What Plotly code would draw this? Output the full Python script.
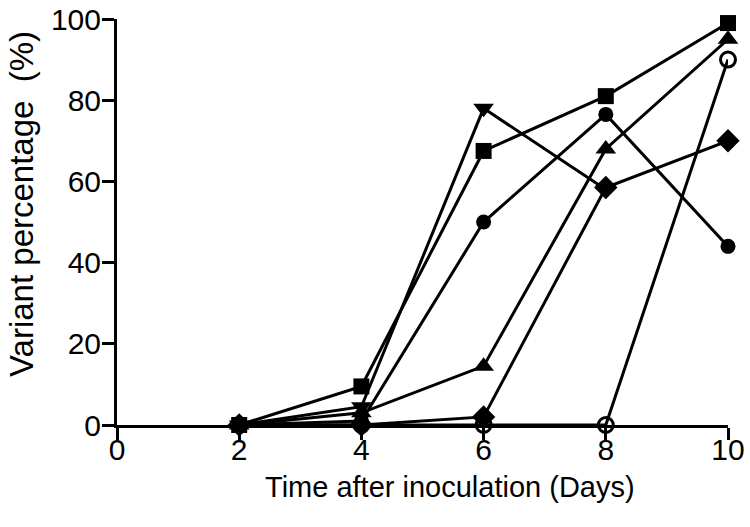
import plotly.graph_objects as go

days = [2, 4, 6, 8, 10]
series_open_circle = [0, 0, 0, 0, 90]
series_square = [0, 9.5, 67.5, 81, 99]
series_triangle_down = [0, 4.5, 78, 58, None]
series_circle = [0, 1, 50, 76.5, 44]
series_triangle_up = [0, 3, 14.5, 68, 95]
series_diamond = [0, 0, 2, 58.5, 70]

x_ticks = [0, 2, 4, 6, 8, 10]
y_ticks = [0, 20, 40, 60, 80, 100]
x_title = "Time after inoculation (Days)"
y_title = "Variant percentage&nbsp;&nbsp;(%)"

specs = [
    (series_open_circle, "circle-open", 15),
    (series_triangle_up, "triangle-up", 18),
    (series_circle, "circle", 15),
    (series_triangle_down, "triangle-down", 18),
    (series_diamond, "diamond", 18),
    (series_square, "square", 16),
]

fig = go.Figure()
for vals, sym, size in specs:
    fig.add_trace(go.Scatter(
        x=days, y=vals, mode="lines+markers",
        line=dict(color="black", width=3),
        marker=dict(symbol=sym, size=size, color="black",
                    line=dict(color="black", width=3 if sym == "circle-open" else 0)),
        cliponaxis=False, showlegend=False, connectgaps=False,
    ))

font = "Liberation Sans, Arial, sans-serif"
W, H = 750, 527
L, T, PW, PH = 117, 19, 611, 406
fig.update_layout(
    width=W, height=H,
    margin=dict(l=L, r=W - L - PW, t=T, b=H - T - PH),
    paper_bgcolor="white", plot_bgcolor="white",
    font=dict(family=font, color="black"),
)
fig.update_xaxes(
    range=[0, 10], tickvals=x_ticks, ticktext=[str(v) for v in x_ticks],
    showgrid=False, zeroline=False, showline=True, linecolor="black", linewidth=3,
    ticks="outside", ticklen=12, tickwidth=3, tickcolor="black",
    tickfont=dict(size=30, family=font), automargin=False,
    ticklabelstandoff=-16, ticklabeloverflow="allow",
)
fig.update_yaxes(
    range=[0, 100], tickvals=y_ticks, ticktext=[str(v) for v in y_ticks],
    showgrid=False, zeroline=False, showline=True, linecolor="black", linewidth=3,
    ticks="outside", ticklen=12, tickwidth=3, tickcolor="black",
    tickfont=dict(size=30, family=font), automargin=False,
    ticklabelstandoff=-5, ticklabeloverflow="allow",
)
fig.add_annotation(
    text=x_title, xref="paper", yref="paper", x=(450 - L) / PW, y=(425 - 487) / PH,
    xanchor="center", yanchor="middle", showarrow=False,
    font=dict(size=29, family=font, color="black"),
)
fig.add_annotation(
    text=y_title, xref="paper", yref="paper", x=(21 - L) / PW, y=(425 - 204) / PH,
    xanchor="center", yanchor="middle", showarrow=False, textangle=-90,
    font=dict(size=33, family=font, color="black"),
)

fig.write_html(
    "out.html",
    config={"displayModeBar": False},
    post_script="document.body.style.margin='0';document.body.style.padding='0';",
)
